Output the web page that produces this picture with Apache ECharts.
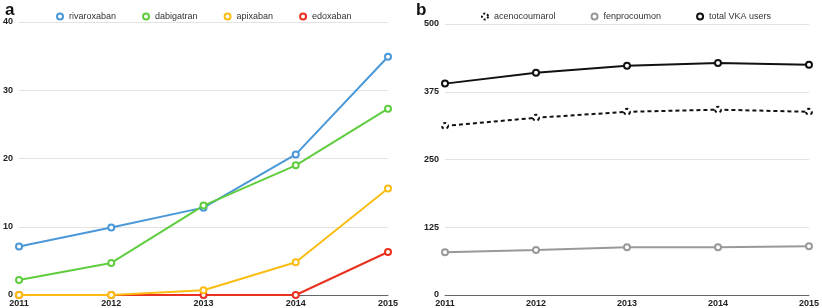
<!DOCTYPE html>
<html>
<head>
<meta charset="utf-8">
<script src="https://cdn.jsdelivr.net/npm/echarts@6/dist/echarts.min.js"></script>
<style>
  html, body { margin: 0; padding: 0; background: #fff; }
  #chart { width: 822px; height: 308px; }
</style>
</head>
<body>
<div id="chart"></div>
<script>
// years on both panels
let years = ['2011', '2012', '2013', '2014', '2015'];

// panel a: NOAC users
let rivaroxaban = [7.1, 9.9, 12.8, 20.6, 34.9];
let dabigatran = [2.2, 4.7, 13.1, 19.0, 27.3];
let apixaban = [0, 0, 0.7, 4.8, 15.6];
let edoxaban = [0, 0, 0, 0, 6.3];

// panel b: VKA users
let acenocoumarol = [312, 327, 338, 342, 338];
let fenprocoumon = [79, 83, 88, 88, 90];
let totalVKA = [390, 410, 423, 428, 425];

const fontFam = '"Liberation Sans", Arial, sans-serif';

function lineSeries(name, data, color, xi, extra) {
    let s = {
        name: name,
        type: 'line',
        xAxisIndex: xi,
        yAxisIndex: xi,
        data: data,
        symbol: 'emptyCircle',
        symbolSize: 6,
        lineStyle: { color: color, width: 2 },
        itemStyle: { color: color, borderWidth: 2 },
        emphasis: { disabled: true }
    };
    return Object.assign(s, extra || {});
}

function xAxis(gi) {
    return {
        type: 'category',
        gridIndex: gi,
        boundaryGap: false,
        data: years,
        axisLine: { lineStyle: { color: '#666', width: 1 } },
        axisTick: { show: false },
        axisLabel: { color: '#222', fontSize: 9, fontWeight: 'bold', fontFamily: fontFam, margin: 4 }
    };
}

function yAxis(gi, max, interval) {
    return {
        type: 'value',
        gridIndex: gi,
        min: 0,
        max: max,
        interval: interval,
        axisLine: { show: false },
        axisTick: { show: false },
        splitLine: { lineStyle: { color: '#e2e2e2', width: 1 } },
        axisLabel: { color: '#222', fontSize: 9, fontWeight: 'bold', fontFamily: fontFam, margin: 6 }
    };
}

let legendText = { fontSize: 9, color: '#333', fontFamily: fontFam, padding: [0, 0, 0, 1] };

let option = {
    animation: false,
    textStyle: { fontFamily: fontFam },
    title: [
        { text: 'a', left: 0, top: -3, textStyle: { fontSize: 17, fontWeight: 'bold', color: '#111', fontFamily: fontFam } },
        { text: 'b', left: 411, top: -3, textStyle: { fontSize: 17, fontWeight: 'bold', color: '#111', fontFamily: fontFam } }
    ],
    legend: [
        {
            data: ['rivaroxaban', 'dabigatran', 'apixaban', 'edoxaban'],
            left: 51, top: 7,
            icon: 'emptyCircle',
            itemWidth: 6, itemHeight: 6, itemGap: 26,
            itemStyle: { borderWidth: 1.5 },
            textStyle: legendText
        },
        {
            data: [
                { name: 'acenocoumarol', itemStyle: { borderType: [2, 2] } },
                'fenprocoumon',
                'total VKA users'
            ],
            left: 476, top: 7,
            icon: 'emptyCircle',
            itemWidth: 6, itemHeight: 6, itemGap: 35,
            itemStyle: { borderWidth: 1.5 },
            textStyle: legendText
        }
    ],
    grid: [
        { left: 16, top: 22, width: 372, height: 274 },
        { left: 445, top: 24, width: 368, height: 272 }
    ],
    xAxis: [xAxis(0), xAxis(1)],
    yAxis: [yAxis(0, 40, 10), yAxis(1, 500, 125)],
    series: [
        lineSeries('rivaroxaban', rivaroxaban, '#4a98d8', 0),
        lineSeries('dabigatran', dabigatran, '#5fcd3e', 0),
        lineSeries('apixaban', apixaban, '#fbbd14', 0),
        lineSeries('edoxaban', edoxaban, '#e8321f', 0, { z: 1 }),
        lineSeries('acenocoumarol', acenocoumarol, '#111', 1, {
            lineStyle: { color: '#111', width: 2, type: [4, 3] },
            itemStyle: { color: '#111', borderWidth: 2, borderType: [3, 3] }
        }),
        lineSeries('fenprocoumon', fenprocoumon, '#999', 1),
        lineSeries('total VKA users', totalVKA, '#111', 1)
    ]
};

let chart = echarts.init(document.getElementById('chart'));
chart.setOption(option);
</script>
</body>
</html>
